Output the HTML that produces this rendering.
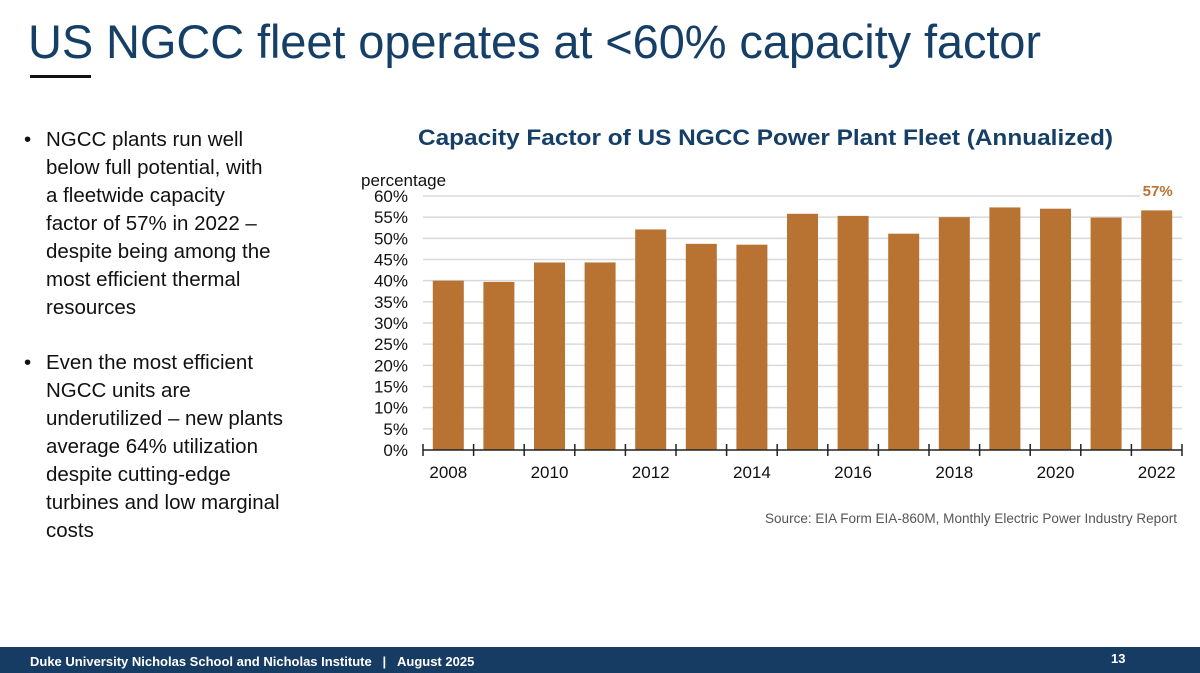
<!DOCTYPE html>
<html><head><meta charset="utf-8"><style>
body{margin:0;width:1200px;height:673px;background:#fff;position:relative;overflow:hidden;font-family:"Liberation Sans",sans-serif}
.abs{position:absolute}
#title{left:28px;top:14px;font-size:47px;color:#163f68;letter-spacing:-0.1px;white-space:nowrap}
#bar{left:30px;top:75px;width:61px;height:3px;background:#111}
ul{position:absolute;left:24px;top:126px;margin:0;padding:0;list-style:none;font-size:20.5px;line-height:28px;color:#111;width:320px;white-space:nowrap}
li{padding-left:22px;position:relative;margin-bottom:27px}
li:before{content:"•";position:absolute;left:0}
#footer{left:0;top:647px;width:1200px;height:26px;background:#173c63;color:#fff;font-size:13px;font-weight:bold}
</style></head><body>
<div id="title" class="abs">US NGCC fleet operates at &lt;60% capacity factor</div>
<div id="bar" class="abs"></div>
<ul>
<li>NGCC plants run well<br>below full potential, with<br>a fleetwide capacity<br>factor of 57% in 2022 –<br>despite being among the<br>most efficient thermal<br>resources</li>
<li>Even the most efficient<br>NGCC units are<br>underutilized – new plants<br>average 64% utilization<br>despite cutting-edge<br>turbines and low marginal<br>costs</li>
</ul>
<svg class="abs" style="left:0;top:0" width="1200" height="673" id="chart">
<text x="418" y="145" textLength="695" lengthAdjust="spacingAndGlyphs" font-size="22" font-weight="bold" fill="#163f68">Capacity Factor of US NGCC Power Plant Fleet (Annualized)</text>
<text x="361" y="186" font-size="17" fill="#111">percentage</text>
<text x="1177" y="523" text-anchor="end" textLength="412" lengthAdjust="spacingAndGlyphs" font-size="13.5" fill="#555">Source: EIA Form EIA-860M, Monthly Electric Power Industry Report</text>
<g id="grid"></g><g id="bars"></g><g id="axis"></g>
</svg>
<div id="footer" class="abs">
<span class="abs" style="left:30px;top:7px">Duke University Nicholas School and Nicholas Institute &nbsp;&nbsp;| &nbsp;&nbsp;August 2025</span>
<span class="abs" style="left:1111px;top:4px">13</span>
</div>
<script>
const years=[2008,2009,2010,2011,2012,2013,2014,2015,2016,2017,2018,2019,2020,2021,2022];
const values=[40.0,39.7,44.3,44.3,52.1,48.7,48.5,55.8,55.3,51.1,55.0,57.3,57.0,54.9,56.6];
const yTicks=[0,5,10,15,20,25,30,35,40,45,50,55,60];
const lastLabel="57%";
const NS="http://www.w3.org/2000/svg";
const x0=423,x1=1182,y0=450,yTop=196,yMax=60;
const band=(x1-x0)/years.length,bw=31;
const ys=v=>y0-(v/yMax)*(y0-yTop);
const xs=i=>x0+band*(i+0.5);
function mk(t,a,p){const e=document.createElementNS(NS,t);for(const k in a)e.setAttribute(k,a[k]);p.appendChild(e);return e;}
const g=document.getElementById('grid'),b=document.getElementById('bars'),ax=document.getElementById('axis');
yTicks.forEach(v=>{
  if(v>0){const l=mk('line',{x1:x0,x2:v===60?1140:x1,y1:ys(v),y2:ys(v),stroke:'#d9d9d9','stroke-width':1.5},g);
  
  }
  const t=mk('text',{x:408,y:ys(v)+6,'text-anchor':'end','font-size':17,fill:'#111'},g);t.textContent=v+'%';
  
  
});
values.forEach((v,i)=>{
  const r=mk('rect',{x:xs(i)-bw/2,y:ys(v),width:bw,height:y0-ys(v),fill:'#b87333'},b);
  
  
});
const lab=mk('text',{x:xs(values.length-1)+1,y:ys(60)+0,'text-anchor':'middle','font-size':15,'font-weight':'bold',fill:'#b87333'},b);
lab.textContent=lastLabel;


const al=mk('line',{x1:x0,x2:x1,y1:y0,y2:y0,stroke:'#222','stroke-width':1.5},ax);


for(let i=0;i<=years.length;i++){mk('line',{x1:x0+band*i,x2:x0+band*i,y1:y0-6,y2:y0+6,stroke:'#222','stroke-width':1.5},ax);}
years.forEach((yr,i)=>{if(i%2===0){const t=mk('text',{x:xs(i),y:478,'text-anchor':'middle','font-size':17,fill:'#111'},ax);t.textContent=yr;
  
  }});
</script>
</body></html>
